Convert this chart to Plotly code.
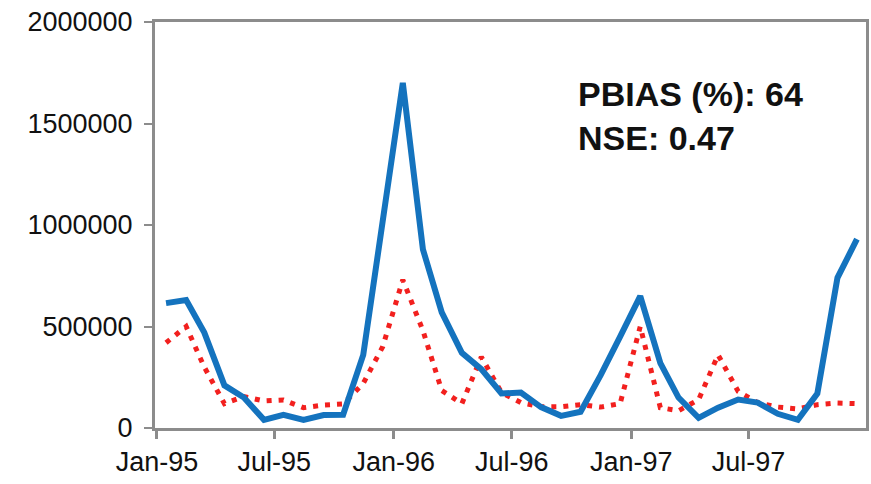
import plotly.graph_objects as go
import pandas as pd

months = [f"{y}-{m:02d}" for y in (1995, 1996, 1997) for m in range(1, 13)]

simulated = [615000, 630000, 470000, 210000, 150000, 40000, 65000, 40000, 64000, 65000,
             360000, 1000000, 1700000, 880000, 570000, 370000, 290000, 170000, 175000, 103000,
             60000, 80000, 260000, 450000, 650000, 320000, 150000, 50000, 100000, 140000,
             125000, 70000, 40000, 170000, 740000, 930000]

observed = [420000, 500000, 300000, 120000, 155000, 133000, 138000, 100000, 113000, 118000,
            220000, 400000, 730000, 480000, 185000, 120000, 350000, 175000, 125000, 105000,
            105000, 115000, 103000, 120000, 500000, 100000, 85000, 140000, 360000, 180000,
            125000, 103000, 94000, 115000, 123000, 120000]

stats_text = "PBIAS (%): 64<br>NSE: 0.47"

x = pd.to_datetime([m + "-15" for m in months])

fig = go.Figure()
fig.add_trace(go.Scatter(x=x, y=observed, mode="lines",
                         line=dict(color="#F2201E", width=5, dash="5px,7px"),
                         showlegend=False))
fig.add_trace(go.Scatter(x=x, y=simulated, mode="lines",
                         line=dict(color="#1473BE", width=6),
                         showlegend=False))

font = "Liberation Sans, Arial, sans-serif"
axis_color = "#8C8C8C"
fig.update_layout(
    width=871, height=484,
    margin=dict(l=155, r=2, t=22, b=56),
    paper_bgcolor="white", plot_bgcolor="white",
    font=dict(family=font, size=27, color="#111111"),
    xaxis=dict(type="date", range=["1994-12-29", "1997-12-29"],
               tick0="1995-01-01", dtick="M6", tickformat="%b-%y",
               showgrid=False, zeroline=False,
               showline=True, linecolor=axis_color, linewidth=3, mirror=True,
               ticks="outside", ticklen=8, tickwidth=3, tickcolor=axis_color,
               tickfont=dict(size=27)),
    yaxis=dict(range=[0, 2000000], dtick=500000, tickformat="d",
               showgrid=False, zeroline=False,
               showline=True, linecolor=axis_color, linewidth=3, mirror=True,
               ticks="outside", ticklen=8, tickwidth=2, tickcolor=axis_color,
               ticklabelstandoff=6,
               tickfont=dict(size=27)),
    annotations=[dict(text="<b>" + stats_text + "</b>", xref="paper", yref="paper",
                      x=(577 - 155) / 712, y=(428 - 73) / 406,
                      xanchor="left", yanchor="top", align="left", showarrow=False,
                      font=dict(family=font, size=34, color="#111111"))],
)

fig.write_html("out.html")
